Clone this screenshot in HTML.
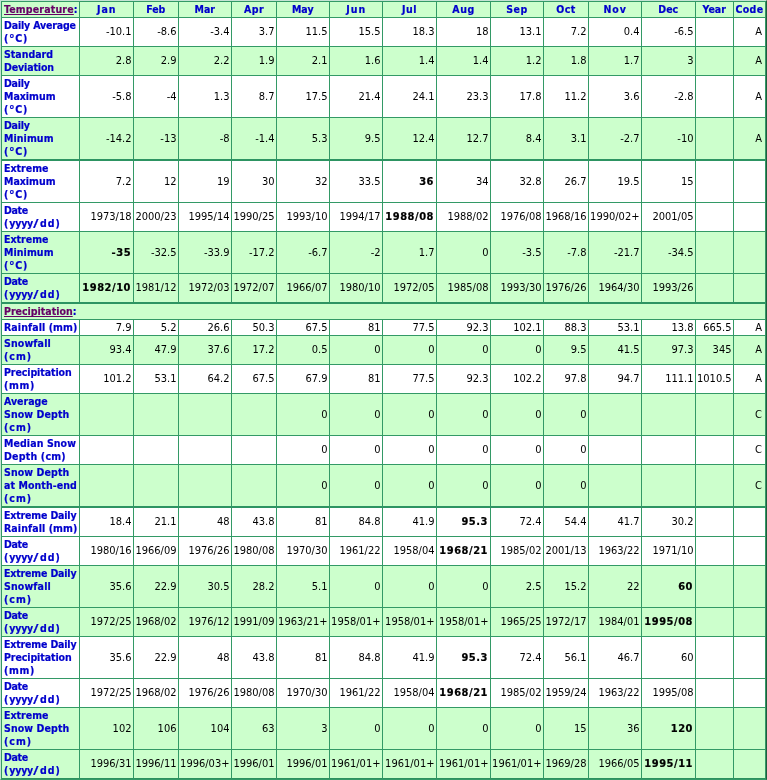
<!DOCTYPE html>
<html lang="en"><head><meta charset="utf-8"><title>Climate Normals</title>
<style>
html,body{margin:0;padding:0;background:#fff;}
body{width:767px;height:780px;overflow:hidden;position:relative;}
.wrap{position:absolute;left:0;top:0;width:765px;height:778px;border:1px solid;border-color:#c5e3d4 #1f5c3d #339966 #c5e3d4;}
table{border-collapse:separate;border-spacing:0;table-layout:fixed;width:765px;border-left:1px solid #339966;border-top:1px solid #339966;font-family:"DejaVu Sans Condensed","DejaVu Sans",sans-serif;font-size:11px;line-height:13px;color:#000;}
td,th{border-right:1px solid #339966;border-bottom:1px solid #339966;padding:0 1.5px 0 1px;vertical-align:middle;white-space:nowrap;overflow:hidden;box-sizing:border-box;}
td{text-align:right;}
th{font-weight:bold;font-size:10.5px;color:#0000cc;text-align:center;-webkit-text-stroke:0.2px #0000cc;}
th.l{text-align:left;padding-left:2px;}
tr.g td,tr.g th{background:#ccffcc;}
tr.w td,tr.w th{background:#fff;}
tr.h{height:16px;}
tr.k td,tr.k th{border-top:1px solid #339966;}
tr.r29 td{padding-bottom:2px;}
a{-webkit-text-stroke:0.2px #660066;color:#660066;text-decoration:underline;text-decoration-skip-ink:none;}
b{font-weight:bold;letter-spacing:0.55px;margin-right:0.45px;-webkit-text-stroke:0.2px #000;}
td:last-child{padding-right:3px;}
tr.k td,tr.k th{border-top-color:#2d9462;}
tr.j td,tr.j th{border-bottom-color:#2d9462;}
tr:last-child td,tr:last-child th{border-bottom-color:#2c915e;}
.yy{letter-spacing:-0.23px;}
.sl{display:inline-block;transform:scaleX(1.5);letter-spacing:0;margin:0 2.6px 0 1.0px;}
.dg{font-size:12.5px;line-height:1px;vertical-align:-1px;}
.s0{letter-spacing:0.18px;}
.s1{letter-spacing:1.00px;margin-right:-1.00px;}
.s4{letter-spacing:0.50px;margin-right:-0.50px;}
.s6{letter-spacing:1.00px;margin-right:-1.00px;}
.s7{letter-spacing:0.50px;margin-right:-0.50px;}
.s8{letter-spacing:0.50px;margin-right:-0.50px;}
.s9{letter-spacing:0.50px;margin-right:-0.50px;}
.s10{letter-spacing:0.50px;margin-right:-0.50px;}
.s11{letter-spacing:1.00px;margin-right:-1.00px;}
.s14{letter-spacing:0.33px;margin-right:-0.33px;}
.s15{letter-spacing:-0.16px;}
.s16{letter-spacing:0.67px;}
.s18{letter-spacing:-0.12px;}
.s19{letter-spacing:-0.25px;}
.s21{letter-spacing:0.08px;}
.s23{letter-spacing:-0.33px;}
.s24{letter-spacing:0.99px;}
.s26{letter-spacing:0.09px;}
.s27{letter-spacing:0.15px;}
.s28{letter-spacing:1.00px;}
.s29{letter-spacing:-0.08px;}
.s30{letter-spacing:0.67px;}
.s32{letter-spacing:0.11px;}
.s33{letter-spacing:0.10px;}
.s34{letter-spacing:0.22px;}
.s35{letter-spacing:0.09px;}
.s36{letter-spacing:-0.16px;}
</style></head>
<body>
<div class="wrap">
<table cellspacing="0" cellpadding="0">
<colgroup><col style="width:78px"><col style="width:54px"><col style="width:45px"><col style="width:53px"><col style="width:45px"><col style="width:53px"><col style="width:53px"><col style="width:54px"><col style="width:54px"><col style="width:53px"><col style="width:45px"><col style="width:53px"><col style="width:54px"><col style="width:38px"><col style="width:32px"></colgroup>
<tr class="g h"><th class="l"><a href="#t" class="s0">Temperature</a>:</th><th><span class="s1">Jan</span></th><th><span class="s2">Feb</span></th><th><span class="s3">Mar</span></th><th><span class="s4">Apr</span></th><th><span class="s5">May</span></th><th><span class="s6">Jun</span></th><th><span class="s7">Jul</span></th><th><span class="s8">Aug</span></th><th><span class="s9">Sep</span></th><th><span class="s10">Oct</span></th><th><span class="s11">Nov</span></th><th><span class="s12">Dec</span></th><th><span class="s13">Year</span></th><th><span class="s14">Code</span></th></tr>
<tr class="w r29" style="height:29px"><th class="l"><span class="s15">Daily Average</span><br><span class="s16">(<span class="dg">°</span>C)</span></th><td>-10.1</td><td>-8.6</td><td>-3.4</td><td>3.7</td><td>11.5</td><td>15.5</td><td>18.3</td><td>18</td><td>13.1</td><td>7.2</td><td>0.4</td><td>-6.5</td><td></td><td>A</td></tr>
<tr class="g r29" style="height:29px"><th class="l"><span class="s17">Standard</span><br><span class="s18">Deviation</span></th><td>2.8</td><td>2.9</td><td>2.2</td><td>1.9</td><td>2.1</td><td>1.6</td><td>1.4</td><td>1.4</td><td>1.2</td><td>1.8</td><td>1.7</td><td>3</td><td></td><td>A</td></tr>
<tr class="w r42" style="height:42px"><th class="l"><span class="s19">Daily</span><br><span class="s20">Maximum</span><br><span class="s16">(<span class="dg">°</span>C)</span></th><td>-5.8</td><td>-4</td><td>1.3</td><td>8.7</td><td>17.5</td><td>21.4</td><td>24.1</td><td>23.3</td><td>17.8</td><td>11.2</td><td>3.6</td><td>-2.8</td><td></td><td>A</td></tr>
<tr class="g r42 j" style="height:42px"><th class="l"><span class="s19">Daily</span><br><span class="s21">Minimum</span><br><span class="s16">(<span class="dg">°</span>C)</span></th><td>-14.2</td><td>-13</td><td>-8</td><td>-1.4</td><td>5.3</td><td>9.5</td><td>12.4</td><td>12.7</td><td>8.4</td><td>3.1</td><td>-2.7</td><td>-10</td><td></td><td>A</td></tr>
<tr class="w r42 k" style="height:43px"><th class="l"><span class="s22">Extreme</span><br><span class="s20">Maximum</span><br><span class="s16">(<span class="dg">°</span>C)</span></th><td>7.2</td><td>12</td><td>19</td><td>30</td><td>32</td><td>33.5</td><td><b>36</b></td><td>34</td><td>32.8</td><td>26.7</td><td>19.5</td><td>15</td><td></td><td></td></tr>
<tr class="w r29" style="height:29px"><th class="l"><span class="s23">Date</span><br><span class="s24">(<span class="yy">yyyy</span><span class="sl">/</span>dd)</span></th><td>1973/18</td><td>2000/23</td><td>1995/14</td><td>1990/25</td><td>1993/10</td><td>1994/17</td><td><b>1988/08</b></td><td>1988/02</td><td>1976/08</td><td>1968/16</td><td>1990/02+</td><td>2001/05</td><td></td><td></td></tr>
<tr class="g r42" style="height:42px"><th class="l"><span class="s22">Extreme</span><br><span class="s21">Minimum</span><br><span class="s16">(<span class="dg">°</span>C)</span></th><td><b>-35</b></td><td>-32.5</td><td>-33.9</td><td>-17.2</td><td>-6.7</td><td>-2</td><td>1.7</td><td>0</td><td>-3.5</td><td>-7.8</td><td>-21.7</td><td>-34.5</td><td></td><td></td></tr>
<tr class="g r29 j" style="height:29px"><th class="l"><span class="s23">Date</span><br><span class="s24">(<span class="yy">yyyy</span><span class="sl">/</span>dd)</span></th><td><b>1982/10</b></td><td>1981/12</td><td>1972/03</td><td>1972/07</td><td>1966/07</td><td>1980/10</td><td>1972/05</td><td>1985/08</td><td>1993/30</td><td>1976/26</td><td>1964/30</td><td>1993/26</td><td></td><td></td></tr>
<tr class="g r16 k" style="height:17px"><th class="l" colspan="15"><a href="#p" class="s25">Precipitation</a>:</th></tr>
<tr class="w r16" style="height:16px"><th class="l"><span class="s26">Rainfall (mm)</span></th><td>7.9</td><td>5.2</td><td>26.6</td><td>50.3</td><td>67.5</td><td>81</td><td>77.5</td><td>92.3</td><td>102.1</td><td>88.3</td><td>53.1</td><td>13.8</td><td>665.5</td><td>A</td></tr>
<tr class="g r29" style="height:29px"><th class="l"><span class="s27">Snowfall</span><br><span class="s28">(cm)</span></th><td>93.4</td><td>47.9</td><td>37.6</td><td>17.2</td><td>0.5</td><td>0</td><td>0</td><td>0</td><td>0</td><td>9.5</td><td>41.5</td><td>97.3</td><td>345</td><td>A</td></tr>
<tr class="w r29" style="height:29px"><th class="l"><span class="s29">Precipitation</span><br><span class="s30">(mm)</span></th><td>101.2</td><td>53.1</td><td>64.2</td><td>67.5</td><td>67.9</td><td>81</td><td>77.5</td><td>92.3</td><td>102.2</td><td>97.8</td><td>94.7</td><td>111.1</td><td>1010.5</td><td>A</td></tr>
<tr class="g r42" style="height:42px"><th class="l"><span class="s31">Average</span><br><span class="s32">Snow Depth</span><br><span class="s28">(cm)</span></th><td></td><td></td><td></td><td></td><td>0</td><td>0</td><td>0</td><td>0</td><td>0</td><td>0</td><td></td><td></td><td></td><td>C</td></tr>
<tr class="w r29" style="height:29px"><th class="l"><span class="s33">Median Snow</span><br><span class="s34">Depth (cm)</span></th><td></td><td></td><td></td><td></td><td>0</td><td>0</td><td>0</td><td>0</td><td>0</td><td>0</td><td></td><td></td><td></td><td>C</td></tr>
<tr class="g r42 j" style="height:42px"><th class="l"><span class="s32">Snow Depth</span><br><span class="s35">at Month-end</span><br><span class="s28">(cm)</span></th><td></td><td></td><td></td><td></td><td>0</td><td>0</td><td>0</td><td>0</td><td>0</td><td>0</td><td></td><td></td><td></td><td>C</td></tr>
<tr class="w r29 k" style="height:30px"><th class="l"><span class="s36">Extreme Daily</span><br><span class="s26">Rainfall (mm)</span></th><td>18.4</td><td>21.1</td><td>48</td><td>43.8</td><td>81</td><td>84.8</td><td>41.9</td><td><b>95.3</b></td><td>72.4</td><td>54.4</td><td>41.7</td><td>30.2</td><td></td><td></td></tr>
<tr class="w r29" style="height:29px"><th class="l"><span class="s23">Date</span><br><span class="s24">(<span class="yy">yyyy</span><span class="sl">/</span>dd)</span></th><td>1980/16</td><td>1966/09</td><td>1976/26</td><td>1980/08</td><td>1970/30</td><td>1961/22</td><td>1958/04</td><td><b>1968/21</b></td><td>1985/02</td><td>2001/13</td><td>1963/22</td><td>1971/10</td><td></td><td></td></tr>
<tr class="g r42" style="height:42px"><th class="l"><span class="s36">Extreme Daily</span><br><span class="s27">Snowfall</span><br><span class="s28">(cm)</span></th><td>35.6</td><td>22.9</td><td>30.5</td><td>28.2</td><td>5.1</td><td>0</td><td>0</td><td>0</td><td>2.5</td><td>15.2</td><td>22</td><td><b>60</b></td><td></td><td></td></tr>
<tr class="g r29" style="height:29px"><th class="l"><span class="s23">Date</span><br><span class="s24">(<span class="yy">yyyy</span><span class="sl">/</span>dd)</span></th><td>1972/25</td><td>1968/02</td><td>1976/12</td><td>1991/09</td><td>1963/21+</td><td>1958/01+</td><td>1958/01+</td><td>1958/01+</td><td>1965/25</td><td>1972/17</td><td>1984/01</td><td><b>1995/08</b></td><td></td><td></td></tr>
<tr class="w r42" style="height:42px"><th class="l"><span class="s36">Extreme Daily</span><br><span class="s29">Precipitation</span><br><span class="s30">(mm)</span></th><td>35.6</td><td>22.9</td><td>48</td><td>43.8</td><td>81</td><td>84.8</td><td>41.9</td><td><b>95.3</b></td><td>72.4</td><td>56.1</td><td>46.7</td><td>60</td><td></td><td></td></tr>
<tr class="w r29" style="height:29px"><th class="l"><span class="s23">Date</span><br><span class="s24">(<span class="yy">yyyy</span><span class="sl">/</span>dd)</span></th><td>1972/25</td><td>1968/02</td><td>1976/26</td><td>1980/08</td><td>1970/30</td><td>1961/22</td><td>1958/04</td><td><b>1968/21</b></td><td>1985/02</td><td>1959/24</td><td>1963/22</td><td>1995/08</td><td></td><td></td></tr>
<tr class="g r42" style="height:42px"><th class="l"><span class="s22">Extreme</span><br><span class="s32">Snow Depth</span><br><span class="s28">(cm)</span></th><td>102</td><td>106</td><td>104</td><td>63</td><td>3</td><td>0</td><td>0</td><td>0</td><td>0</td><td>15</td><td>36</td><td><b>120</b></td><td></td><td></td></tr>
<tr class="g r29" style="height:29px"><th class="l"><span class="s23">Date</span><br><span class="s24">(<span class="yy">yyyy</span><span class="sl">/</span>dd)</span></th><td>1996/31</td><td>1996/11</td><td>1996/03+</td><td>1996/01</td><td>1996/01</td><td>1961/01+</td><td>1961/01+</td><td>1961/01+</td><td>1961/01+</td><td>1969/28</td><td>1966/05</td><td><b>1995/11</b></td><td></td><td></td></tr>
</table>
</div>
</body></html>
